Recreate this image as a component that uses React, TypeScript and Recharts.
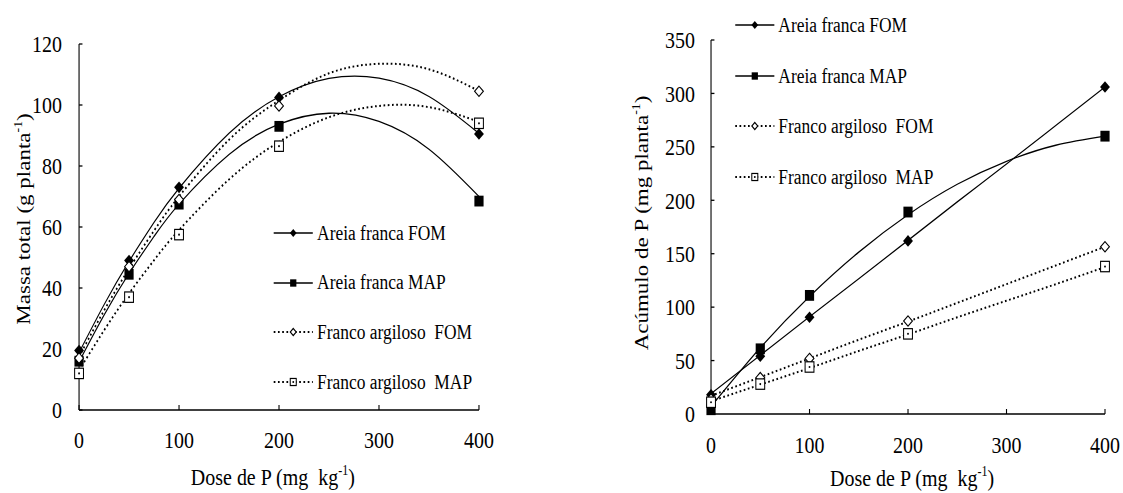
import React from 'react'
import { LineChart, Line, XAxis, YAxis, Legend } from 'recharts'

const FONT = '"Liberation Serif", "Times New Roman", Times, serif'
// the source figure is slightly condensed horizontally
const SQUEEZE = 0.85

// doses of P (mg kg-1)
const DOSES = [0, 50, 100, 200, 400]
// positions where the fitted trend curves were read
const FIT_X_MASSA = [0, 25, 50, 75, 100, 150, 200, 250, 300, 350, 400]
const FIT_X_ACUM = [0, 50, 100, 150, 200, 250, 300, 350, 400]

// Massa total (g planta-1) — observed
const MASSA_AF_FOM = [19.5, 49, 73, 102.5, 90.5]
const MASSA_AF_MAP = [16, 44.5, 67.5, 93, 68.5]
const MASSA_FA_FOM = [17, 47, 69, 99.7, 104.5]
const MASSA_FA_MAP = [12, 37, 57.5, 86.5, 94]
// Massa total — trend curves
const MASSA_AF_FOM_FIT = [18.8, 34.5, 48.7, 61.5, 72.7, 90.7, 102.7, 108.7, 108.8, 102.8, 90.7]
const MASSA_AF_MAP_FIT = [15.8, 31.1, 44.8, 56.9, 67.5, 83.8, 93.7, 97.3, 94.6, 85.5, 70]
const MASSA_FA_FOM_FIT = [17.5, 32.6, 46.3, 58.8, 70, 88.6, 101.5, 110.4, 113.5, 111.7, 104.6]
const MASSA_FA_MAP_FIT = [13, 26.1, 38.2, 49.1, 59, 75.6, 87.9, 96, 99.7, 99.3, 94.5]

// Acúmulo de P (mg planta-1) — observed
const ACUM_AF_FOM = [18, 54, 90.5, 162, 306]
const ACUM_AF_MAP = [4, 61, 111, 189, 260]
const ACUM_FA_FOM = [14, 34, 52, 87, 156.5]
const ACUM_FA_MAP = [11, 28, 44, 75, 138]
// Acúmulo de P — trend lines
const ACUM_AF_FOM_FIT = [19, 55, 91, 126.5, 162.5, 198.5, 234, 270, 306]
const ACUM_AF_MAP_FIT = [7, 62, 110, 151.5, 186.5, 215, 236.5, 251.5, 260]
const ACUM_FA_FOM_FIT = [17, 34.5, 52, 69.5, 86.5, 104, 121.5, 139, 156.5]
const ACUM_FA_MAP_FIT = [12, 27.5, 43, 59, 74.5, 90.5, 106, 121.5, 137.5]

const X_TICKS = [0, 100, 200, 300, 400]
const MASSA_TICKS = [0, 20, 40, 60, 80, 100, 120]
const ACUM_TICKS = [0, 50, 100, 150, 200, 250, 300, 350]

type Kind = 'diamond' | 'square' | 'odiamond' | 'osquare'

const SERIES: { name: string; kind: Kind; dotted: boolean }[] = [
  { name: 'Areia franca FOM', kind: 'diamond', dotted: false },
  { name: 'Areia franca MAP', kind: 'square', dotted: false },
  { name: 'Franco argiloso  FOM', kind: 'odiamond', dotted: true },
  { name: 'Franco argiloso  MAP', kind: 'osquare', dotted: true },
]

const pts = (xs: number[], ys: number[]) => xs.map((x, i) => ({ x, y: ys[i] }))

function Marker({ cx, cy, kind, s = 1 }: { cx?: number; cy?: number; kind: Kind; s?: number }) {
  if (cx == null || cy == null) return null
  if (kind === 'diamond') {
    const r = 5.8 * s
    return <polygon points={`${cx},${cy - r} ${cx + r},${cy} ${cx},${cy + r} ${cx - r},${cy}`} fill="#000" />
  }
  if (kind === 'square') {
    const h = 5.4 * s
    return <rect x={cx - h} y={cy - h} width={2 * h} height={2 * h} fill="#000" />
  }
  if (kind === 'odiamond') {
    const r = 5.2 * s
    return <polygon points={`${cx},${cy - r} ${cx + r},${cy} ${cx},${cy + r} ${cx - r},${cy}`}
      fill="#fff" stroke="#000" strokeWidth={1.2} />
  }
  const h = 5.2 * s
  return (
    <g>
      <rect x={cx - h} y={cy - h} width={2 * h} height={2 * h} fill="#fff" stroke="#000" strokeWidth={1.2} />
      <circle cx={cx} cy={cy} r={1.1} fill="#000" />
    </g>
  )
}

function LegendBox({ rowH }: { rowH: number }) {
  return (
    <div style={{ fontFamily: FONT, fontSize: 20.5, color: '#000' }}>
      {SERIES.map(s => (
        <div key={s.name} style={{ display: 'flex', alignItems: 'center', height: rowH }}>
          <svg width={46} height={14} style={{ overflow: 'visible' }}>
            <line x1={0} y1={7} x2={46} y2={7} stroke="#000"
              strokeWidth={s.dotted ? 2 : 1.3} strokeDasharray={s.dotted ? '2 3' : undefined} />
            <Marker cx={23} cy={7} kind={s.kind} s={0.68} />
          </svg>
          <span style={{ marginLeft: 5, whiteSpace: 'pre', lineHeight: 1 }}>{s.name}</span>
        </div>
      ))}
    </div>
  )
}

const axisLine = { stroke: '#000', strokeWidth: 1.3 }
const tickStyle = { fill: '#000', fontSize: 23.5, fontFamily: FONT }

function seriesLines(obs: number[][], fitX: number[], fits: number[][]) {
  const curves = SERIES.map((s, i) => (
    <Line key={'fit' + i} data={pts(fitX, fits[i])} dataKey="y" type="natural"
      stroke="#000" strokeWidth={s.dotted ? 2 : 1.3} strokeDasharray={s.dotted ? '2 3' : undefined}
      dot={false} activeDot={false} legendType="none" isAnimationActive={false} />
  ))
  const marks = SERIES.map((s, i) => (
    <Line key={'obs' + i} data={pts(DOSES, obs[i])} dataKey="y" stroke="none"
      dot={(p: any) => <Marker key={'m' + i + '-' + p.index} cx={p.cx} cy={p.cy} kind={s.kind} />}
      activeDot={false} legendType="none" isAnimationActive={false} />
  ))
  return [...curves, ...marks]
}

function MassaChart() {
  return (
    <LineChart width={660} height={493} margin={{ top: 44, right: 96.5, bottom: 53, left: 33 }}>
      <XAxis type="number" dataKey="x" domain={[0, 400]} ticks={X_TICKS} interval={0} height={30}
        axisLine={axisLine} tickLine={axisLine} tickSize={-5} tickMargin={26} tick={tickStyle} />
      <YAxis type="number" domain={[0, 120]} ticks={MASSA_TICKS} interval={0} width={60}
        axisLine={axisLine} tickLine={axisLine} tickSize={-4} tickMargin={24} tick={tickStyle} />
      {seriesLines(
        [MASSA_AF_FOM, MASSA_AF_MAP, MASSA_FA_FOM, MASSA_FA_MAP],
        FIT_X_MASSA,
        [MASSA_AF_FOM_FIT, MASSA_AF_MAP_FIT, MASSA_FA_FOM_FIT, MASSA_FA_MAP_FIT],
      )}
      <Legend layout="vertical" align="center" verticalAlign="middle"
        wrapperStyle={{ left: 322, top: 208, width: 280 }} content={() => <LegendBox rowH={49.7} />} />
    </LineChart>
  )
}

function AcumChart() {
  return (
    <LineChart width={661} height={493} margin={{ top: 40, right: 21, bottom: 49, left: 116.5 }}>
      <XAxis type="number" dataKey="x" domain={[0, 400]} ticks={X_TICKS} interval={0} height={30}
        axisLine={axisLine} tickLine={axisLine} tickSize={-5} tickMargin={27} tick={tickStyle} />
      <YAxis type="number" domain={[0, 350]} ticks={ACUM_TICKS} interval={0} width={60}
        axisLine={axisLine} tickLine={axisLine} tickSize={-4} tickMargin={23} tick={tickStyle} />
      {seriesLines(
        [ACUM_AF_FOM, ACUM_AF_MAP, ACUM_FA_FOM, ACUM_FA_MAP],
        FIT_X_ACUM,
        [ACUM_AF_FOM_FIT, ACUM_AF_MAP_FIT, ACUM_FA_FOM_FIT, ACUM_FA_MAP_FIT],
      )}
      <Legend layout="vertical" align="center" verticalAlign="middle"
        wrapperStyle={{ left: 204.7, top: 0, width: 300 }} content={() => <LegendBox rowH={50.6} />} />
    </LineChart>
  )
}

const Sup = ({ children }: { children: React.ReactNode }) => (
  <span style={{ fontSize: '0.6em', position: 'relative', top: '-0.7em' }}>{children}</span>
)

function Title({ x, y, vertical, size, children }: { x: number; y: number; vertical?: boolean; size: number; children: React.ReactNode }) {
  return (
    <div style={{
      position: 'absolute', left: x, top: y, whiteSpace: 'pre', fontSize: size, lineHeight: 1,
      transform: `translate(-50%, -50%)${vertical ? ' rotate(-90deg)' : ''}`,
    }}>{children}</div>
  )
}

export default function App() {
  return (
    <div style={{ position: 'fixed', left: 0, top: 0, width: 1123, height: 493, overflow: 'hidden', background: '#fff' }}>
      <div style={{
        position: 'absolute', left: 0, top: 0, width: 1321, height: 493,
        transform: `scaleX(${SQUEEZE})`, transformOrigin: '0 0', fontFamily: FONT, color: '#000',
      }}>
        <div style={{ position: 'absolute', left: 0, top: 0 }}><MassaChart /></div>
        <div style={{ position: 'absolute', left: 660, top: 0 }}><AcumChart /></div>
        <Title x={28} y={219} vertical size={23}>Massa total (g planta<Sup>-1</Sup>)</Title>
        <Title x={321} y={478} size={23.5}>Dose de P (mg  kg<Sup>-1</Sup>)</Title>
        <Title x={755} y={223} vertical size={23}>Acúmulo de P (mg planta<Sup>-1</Sup>)</Title>
        <Title x={1073} y={479} size={23.5}>Dose de P (mg  kg<Sup>-1</Sup>)</Title>
      </div>
    </div>
  )
}
